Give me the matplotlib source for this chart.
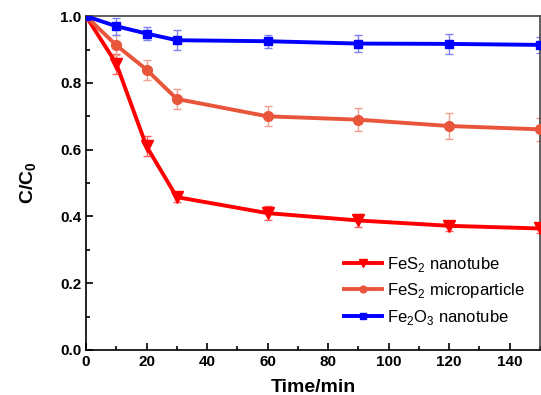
import matplotlib
matplotlib.use("Agg")
import matplotlib.pyplot as plt
from matplotlib.ticker import MultipleLocator

time = [0, 10, 20, 30, 60, 90, 120, 150]
fes2_nanotube = [1.0, 0.858, 0.610, 0.458, 0.410, 0.388, 0.372, 0.364]
fes2_nanotube_err = [0.0, 0.03, 0.03, 0.015, 0.02, 0.02, 0.015, 0.015]
fes2_micro = [1.0, 0.913, 0.840, 0.752, 0.700, 0.690, 0.671, 0.661]
fes2_micro_err = [0.0, 0.03, 0.03, 0.03, 0.03, 0.035, 0.04, 0.035]
fe2o3_nanotube = [1.0, 0.970, 0.948, 0.928, 0.925, 0.918, 0.917, 0.914]
fe2o3_nanotube_err = [0.0, 0.025, 0.02, 0.03, 0.02, 0.025, 0.03, 0.025]

labels = ["FeS$_2$ nanotube", "FeS$_2$ microparticle", "Fe$_2$O$_3$ nanotube"]

plt.rcParams['font.family'] = ['Liberation Sans', 'DejaVu Sans']
plt.rcParams['mathtext.fontset'] = 'custom'
plt.rcParams['mathtext.rm'] = 'Liberation Sans'
plt.rcParams['mathtext.bf'] = 'Liberation Sans:bold'

fig = plt.figure(figsize=(5.41, 3.95), dpi=100)
ax = fig.add_axes([0.159, 0.114, 0.839, 0.845])

series = [
    (fes2_nanotube, fes2_nanotube_err, '#FF0000', 'v', 8, '#FF6060'),
    (fes2_micro, fes2_micro_err, '#E8553A', 'o', 7, '#F0A090'),
    (fe2o3_nanotube, fe2o3_nanotube_err, '#0000FF', 's', 6, '#8080F0'),
]
handles = []
for (vals, errs, c, m, ms, ec), lab in zip(series, labels):
    ax.errorbar(time, vals, yerr=errs, fmt='none', ecolor=ec, elinewidth=1, capsize=3, capthick=1, zorder=2)
    h, = ax.plot(time, vals, color=c, marker=m, markersize=ms, linewidth=2.8, zorder=3, label=lab)
    handles.append(h)

ax.set_xlim(0, 150)
ax.set_ylim(0, 1.0)
ax.xaxis.set_major_locator(MultipleLocator(20))
ax.xaxis.set_minor_locator(MultipleLocator(10))
ax.yaxis.set_major_locator(MultipleLocator(0.2))
ax.yaxis.set_minor_locator(MultipleLocator(0.1))
ax.tick_params(which='both', direction='in', top=False, right=False)
ax.tick_params(which='major', length=5, width=1.2, labelsize=11)
ax.tick_params(which='minor', length=3, width=1.2)
for lab in ax.get_xticklabels() + ax.get_yticklabels():
    lab.set_fontweight('bold')
for s in ax.spines.values():
    s.set_linewidth(1.2)
ax.spines['top'].set_color('#444444')
ax.spines['right'].set_color('#444444')

ax.set_xlabel('Time/min', fontsize=14, fontweight='bold', labelpad=7)
ax.set_ylabel('C/C$_\\mathbf{0}$', fontsize=14, fontweight='bold', labelpad=15)

leg = ax.legend(handles=handles, loc='lower right', bbox_to_anchor=(1.0, 0.025), frameon=False,
                fontsize=12, handlelength=2.3, handletextpad=0.3, labelspacing=0.45, markerscale=0.7)

fig.savefig('out.png', dpi=100)
